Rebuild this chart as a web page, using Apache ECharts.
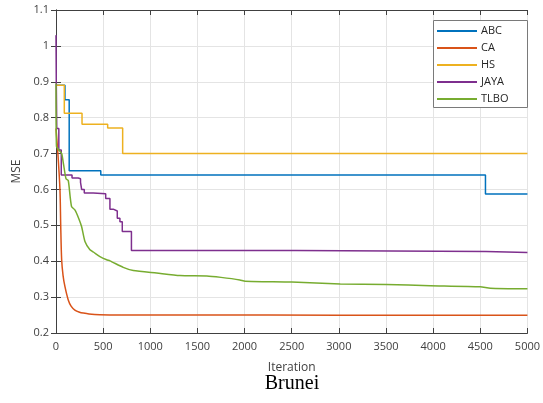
<!DOCTYPE html>
<html>
<head>
<meta charset="utf-8">
<script src="https://cdn.jsdelivr.net/npm/echarts@6/dist/echarts.min.js"></script>
<style>
  html, body { margin: 0; padding: 0; background: #fff; }
  #chart { width: 543px; height: 403px; }
</style>
</head>
<body>
<div id="chart"></div>
<script>
// Convergence curves (MSE vs. iteration) for five optimisers on the Brunei data set.
const seriesNames = ['ABC', 'CA', 'HS', 'JAYA', 'TLBO'];
const seriesColors = ['#0072BD', '#D95319', '#EDB120', '#7E2F8E', '#77AC30'];

// Step-shaped curves: each value holds from its iteration until the next one.
const abcIter = [0, 95, 140, 475, 4555, 5000];
const abcMse  = [0.89, 0.85, 0.652, 0.64, 0.587, 0.587];

const hsIter = [0, 88, 276, 548, 707, 5000];
const hsMse  = [0.89, 0.812, 0.782, 0.771, 0.70, 0.70];

const jayaIter = [0, 3, 8, 30, 56, 170, 236, 260, 272, 300, 395, 527, 572, 607, 650, 678, 703, 800, 2540, 4560, 5000];
const jayaMse  = [1.03, 0.90, 0.77, 0.71, 0.64, 0.632, 0.63, 0.62, 0.60, 0.59, 0.588, 0.575, 0.545, 0.54, 0.52, 0.51, 0.483, 0.43, 0.427, 0.424, 0.424];

// Smoothly decaying curves.
const caIter = [0, 20, 42, 50, 60, 75, 95, 130, 160, 200, 250, 290, 350, 466, 700, 1500, 3000, 5000];
const caMse  = [0.77, 0.70, 0.60, 0.50, 0.404, 0.36, 0.329, 0.292, 0.275, 0.264, 0.258, 0.2555, 0.253, 0.251, 0.2502, 0.25, 0.2498, 0.2495];

const tlboIter = [0, 5, 30, 60, 80, 106, 130, 150, 166, 200, 240, 272, 307, 360, 400, 466, 537, 572, 713, 820, 1067, 1314, 1600, 1750, 1950, 2006, 2500, 3015, 3500, 3970, 4500, 4607, 5000];
const tlboMse  = [0.895, 0.72, 0.71, 0.70, 0.67, 0.63, 0.625, 0.58, 0.552, 0.543, 0.52, 0.496, 0.455, 0.432, 0.425, 0.413, 0.404, 0.401, 0.383, 0.374, 0.367, 0.36, 0.359, 0.355, 0.348, 0.3445, 0.342, 0.3368, 0.335, 0.332, 0.329, 0.325, 0.323];

// Axis ranges and tick spacing.
const xMin = 0, xMax = 5000, xStep = 500;
const yMin = 0.2, yMax = 1.1, yStep = 0.1;

const pairs = (xs, ys) => xs.map((x, i) => [x, ys[i]]);

const axisColor = '#404040';
const labelFont = { fontFamily: 'Open Sans', fontSize: 11, color: '#404040' };

const boxAxis = (extra) => Object.assign({
  type: 'value',
  axisLine: { show: true, lineStyle: { color: axisColor, width: 1 } },
  axisTick: { show: true, inside: true, length: 5, lineStyle: { color: axisColor } },
  splitLine: { show: false },
  axisLabel: { show: false }
}, extra);

const chart = echarts.init(document.getElementById('chart'), null, { renderer: 'canvas' });

chart.setOption({
  animation: false,
  backgroundColor: '#ffffff',
  grid: { left: 56, right: 15, top: 10, bottom: 70, containLabel: false },
  xAxis: [
    {
      type: 'value', min: xMin, max: xMax, interval: xStep,
      name: 'Iteration', nameLocation: 'middle', nameGap: 29,
      nameTextStyle: { fontFamily: 'Open Sans', fontSize: 12, color: '#404040' },
      axisLine: { show: true, onZero: false, lineStyle: { color: axisColor, width: 1 } },
      axisTick: { show: true, inside: true, length: 5, lineStyle: { color: axisColor } },
      axisLabel: Object.assign({ margin: 8, formatter: v => String(v) }, labelFont),
      splitLine: { show: true, lineStyle: { color: '#e4e4e4', width: 1 } }
    },
    boxAxis({ position: 'top', min: xMin, max: xMax, interval: xStep })
  ],
  yAxis: [
    {
      type: 'value', min: yMin, max: yMax, interval: yStep,
      name: 'MSE', nameLocation: 'middle', nameGap: 28, nameRotate: 90,
      nameTextStyle: { fontFamily: 'Open Sans', fontSize: 12, color: '#404040' },
      axisLine: { show: true, onZero: false, lineStyle: { color: axisColor, width: 1 } },
      axisTick: { show: true, inside: true, length: 5, lineStyle: { color: axisColor } },
      axisLabel: Object.assign({ margin: 7, formatter: v => String(+v.toFixed(1)) }, labelFont),
      splitLine: { show: true, lineStyle: { color: '#e4e4e4', width: 1 } }
    },
    boxAxis({ position: 'right', min: yMin, max: yMax, interval: yStep })
  ],
  legend: {
    orient: 'vertical',
    left: 437, top: 24,
    padding: 0,
    itemGap: 3,
    itemWidth: 40, itemHeight: 2,
    icon: 'rect',
    textStyle: { fontFamily: 'Open Sans', fontSize: 11, lineHeight: 14, color: '#262626', padding: [0, 0, 0, -1] },
    data: seriesNames
  },
  graphic: [
    {
      // legend frame
      type: 'rect', z: 3,
      shape: { x: 433.5, y: 20.5, width: 94, height: 87 },
      style: { fill: '#ffffff', stroke: '#7a7a7a', lineWidth: 1 }
    },
    {
      type: 'text',
      style: {
        x: 292, y: 384,
        text: 'Brunei',
        font: '20px "Liberation Serif"',
        fill: '#000000',
        align: 'center',
        verticalAlign: 'middle'
      }
    }
  ],
  series: [
    { name: seriesNames[0], data: pairs(abcIter, abcMse), step: 'end' },
    { name: seriesNames[1], data: pairs(caIter, caMse), smooth: 0.3 },
    { name: seriesNames[2], data: pairs(hsIter, hsMse), step: 'end' },
    { name: seriesNames[3], data: pairs(jayaIter, jayaMse), step: 'end' },
    { name: seriesNames[4], data: pairs(tlboIter, tlboMse), smooth: 0.2 }
  ].map((s, i) => Object.assign({
    type: 'line',
    xAxisIndex: 0, yAxisIndex: 0,
    showSymbol: false, symbol: 'none',
    color: seriesColors[i],
    lineStyle: { width: 1.5, color: seriesColors[i] }
  }, s))
});
</script>
</body>
</html>
